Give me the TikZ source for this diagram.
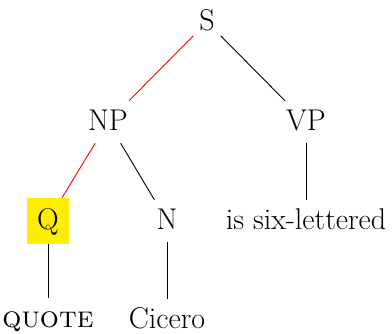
\documentclass[tikz,border=0pt]{standalone}
\definecolor{hl}{RGB}{255,237,0}
\begin{document}
\begin{tikzpicture}[x=1pt,y=-1pt,
  every node/.style={font=\fontsize{30}{35}\selectfont, anchor=base, text height=20pt, text depth=2pt, inner xsep=6pt, inner ysep=10pt},
  qbox/.style={fill=hl, inner xsep=10pt, inner ysep=12pt},
  edge/.style={line width=0.9pt, black},
  redge/.style={line width=0.9pt, red}]
\useasboundingbox (0,0) rectangle (392,334);
\node (S) at (207,31) {S};
\node (NP) at (108,131) {NP};
\node (VP) at (306,131) {VP};
\node[qbox] (Q) at (48,230) {Q};
\node (N) at (167,230) {N};
\node (V) at (306,230) {is six-lettered};
\node (QU) at (48,328) {\textsc{quote}};
\node (C) at (167,329) {Cicero};
\draw[redge] (S) -- (NP);
\draw[edge] (S) -- (VP);
\draw[redge] (NP) -- (Q);
\draw[edge] (NP) -- (N);
\draw[edge] (VP) -- (V);
\draw[edge] (Q) -- (QU);
\draw[edge] (N) -- (C);
\end{tikzpicture}
\end{document}
